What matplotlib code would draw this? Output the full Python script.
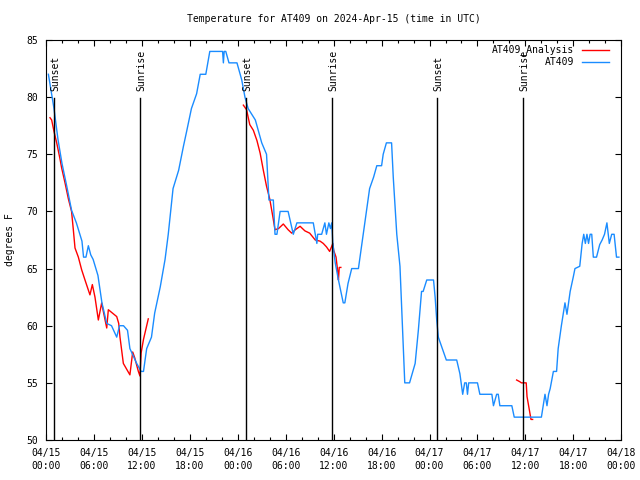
import matplotlib
matplotlib.use('Agg')

import matplotlib.pyplot as plt
import matplotlib.transforms as mtransforms
import numpy as np

# hours since 2024-04-15 00:00 UTC
blue_h = [0.3, 1.0, 1.5, 2.0, 2.6, 3.2, 3.8, 4.5, 4.7, 5.0, 5.3, 5.6, 5.9, 6.5,
          7.0, 7.6, 8.2, 8.85, 9.2, 9.7, 10.2, 10.5, 11.35, 11.9, 12.2, 12.6,
          13.2, 13.6, 14.3, 14.9, 15.3, 15.9, 16.6, 17.2, 17.6, 18.2, 18.85,
          19.3, 20.0, 20.5, 22.1, 22.2, 22.3, 22.5, 22.9, 23.9, 24.5, 24.9,
          25.3, 26.2, 26.6, 27.0, 27.6, 27.9, 28.45, 28.66, 28.9, 29.3, 30.3,
          30.95, 31.4, 33.45, 33.9, 34.0, 34.5, 34.9, 35.1, 35.4, 35.6, 35.76,
          35.9, 36.2, 36.6, 37.2, 37.4, 37.8, 38.26, 39.1, 39.7, 40.1, 40.5,
          41.0, 41.4, 42.0, 42.2, 42.6, 43.25, 43.46, 43.9, 44.3, 44.6, 44.9,
          45.5, 46.2, 46.6, 47.0, 47.2, 47.65, 48.5, 48.7, 48.9, 49.1, 49.5,
          49.9, 50.1, 51.4, 51.8, 52.15, 52.4, 52.6, 52.75, 52.9, 54.0, 54.3,
          55.8, 56.0, 56.4, 56.6, 56.8, 58.3, 58.6, 62.0, 62.45, 62.7, 62.9,
          63.1, 63.5, 63.9, 64.1, 64.5, 64.95, 65.2, 65.6, 66.0, 66.2, 66.8,
          67.1, 67.3, 67.5, 67.7, 67.9, 68.1, 68.3, 68.5, 68.9, 69.3, 69.6,
          69.9, 70.2, 70.5, 70.8, 71.1, 71.4, 71.7]
blue_t = [82, 79, 76.3, 74.2, 72.2, 70.1, 69, 67.4, 66, 66, 67, 66.2, 65.8, 64.4,
          62, 60.2, 60, 59, 60, 60, 59.6, 58, 56.7, 56, 56, 58,
          59, 61.1, 63.4, 65.8, 68, 72, 73.6, 75.7, 77, 79, 80.3,
          82, 82, 84, 84, 83, 84, 84, 83, 83, 81.5, 80,
          79, 78, 77, 76, 75, 71, 71, 68, 68, 70, 70,
          68, 69, 69, 67.2, 68, 68, 69, 68, 69, 68.5, 69,
          67.2, 65.5, 64, 62, 62, 63.7, 65, 65, 68, 70, 72,
          73, 74, 74, 75, 76, 76, 73, 68, 65.2, 60.2, 55,
          55, 56.7, 59.6, 63, 63, 64, 64, 62.5, 60.5, 59, 58.2,
          57.4, 57, 57, 55.8, 54, 55, 55, 54, 55, 55, 54,
          54, 53, 54, 54, 53, 53, 52, 52, 54, 53, 54,
          54.5, 56, 56, 58, 60, 62, 61, 63, 64.3, 65, 65.2,
          67.2, 68, 67.2, 68, 67.2, 68, 68, 66, 66, 67.1, 67.5,
          68, 69, 67.2, 68, 68, 66, 66]

red_h = [0.5, 0.71, 1.0, 1.34, 1.75, 1.96, 2.38, 2.8, 3.2, 3.42, 3.63, 4.05, 4.46,
         4.88, 5.5, 5.8, 6.13, 6.55, 6.97, 7.13, 7.6, 7.8, 8.85, 9.1, 9.26, 9.68,
         10.5, 10.85, 11.1, 11.56, 11.76, 11.9, 12.2, 12.8, None,
         24.7, 25.1, 25.5, 25.95, 26.4, 26.8, 27.2, 27.6, 28.0, 28.4, 28.66, 29.1,
         29.7, 30.3, 30.75, 31.2, 31.8, 32.4, 33.0, 33.7, 34.3, 34.7, 35.1, 35.5,
         35.9, 36.0, 36.3, 36.5, 36.6, 36.7, 36.9, None,
         58.9, 59.3, 59.5, 60.1, 60.2, 60.45, 60.7, 60.9]
red_t = [78.2, 78.0, 77.0, 76.0, 74.6, 73.8, 72.5, 71.1, 70.0, 68.4, 66.8, 66.0, 64.9,
         64.0, 62.7, 63.6, 62.5, 60.5, 62.0, 61.4, 59.8, 61.4, 60.8, 60.2, 59.0, 56.7,
         55.7, 57.7, 57.2, 56.0, 55.6, 57.6, 58.8, 60.6, None,
         79.3, 78.9, 77.6, 77.1, 76.2, 75.1, 73.6, 72.2, 71.1, 69.5, 68.4, 68.5,
         68.9, 68.4, 68.1, 68.4, 68.7, 68.3, 68.1, 67.5, 67.4, 67.2, 66.9, 66.5,
         67.2, 66.6, 66.0, 64.8, 64.0, 65.1, 65.1, None,
         55.25, 55.1, 55.0, 55.0, 53.8, 52.8, 51.8, 51.8]

sun_h = [1.04, 11.76, 25.09, 35.83, 48.97, 59.74]
sun_lbl = ['Sunset', 'Sunrise', 'Sunset', 'Sunrise', 'Sunset', 'Sunrise']

tick_h = list(range(0, 73, 6))
tick_lbl = ['04/15\n00:00', '04/15\n06:00', '04/15\n12:00', '04/15\n18:00',
            '04/16\n00:00', '04/16\n06:00', '04/16\n12:00', '04/16\n18:00',
            '04/17\n00:00', '04/17\n06:00', '04/17\n12:00', '04/17\n18:00',
            '04/18\n00:00']

plt.rcParams['font.family'] = ['DejaVu Sans Mono']
plt.rcParams['font.size'] = 7

fig = plt.figure(figsize=(6.4, 4.8), dpi=100)
ax = fig.add_axes([46/640, 40/480, 575.3/640, 400/480])

rh = np.array([np.nan if v is None else v for v in red_h], dtype=float)
rt = np.array([np.nan if v is None else v for v in red_t], dtype=float)

ax.plot(rh, rt, color='#ff0000', lw=1.0)
ax.plot(blue_h, blue_t, color='#1a8cff', lw=1.0)

trans = mtransforms.blended_transform_factory(ax.transData, ax.transAxes)
for h, lbl in zip(sun_h, sun_lbl):
    ax.axvline(h, ymin=0, ymax=0.855, color='black', lw=1.0)
    ax.text(h + 0.15, 0.872, lbl, rotation=90, ha='center', va='bottom',
            transform=trans, fontsize=7)

ax.set_xlim(0, 72)
ax.set_ylim(50, 85)
ax.set_xticks(tick_h)
ax.set_xticklabels(tick_lbl, linespacing=1.35)
ax.set_xticks(np.arange(0, 73, 2), minor=True)
ax.set_yticks(np.arange(50, 86, 5))
ax.tick_params(which='both', direction='in', top=True, right=True, width=0.8)
ax.tick_params(which='major', length=4.5, pad=6)
ax.tick_params(which='minor', length=2.5)
ax.tick_params(axis='y', pad=6)
for s in ax.spines.values():
    s.set_linewidth(0.8)

ax.set_title('Temperature for AT409 on 2024-Apr-15 (time in UTC)', fontsize=7, pad=13)
fig.text(10/640, 0.5, 'degrees F', rotation=90, ha='center', va='center', fontsize=7)

# legend, gnuplot style (text right-justified, sample to the right)
ax.text(0.918, 0.975, 'AT409_Analysis', transform=ax.transAxes, ha='right', va='center')
ax.plot([0.932, 0.979], [0.975, 0.975], transform=ax.transAxes, color='#ff0000', lw=1.0)
ax.text(0.918, 0.944, 'AT409', transform=ax.transAxes, ha='right', va='center')
ax.plot([0.932, 0.979], [0.944, 0.944], transform=ax.transAxes, color='#1a8cff', lw=1.0)

fig.savefig('out.png', dpi=100)
